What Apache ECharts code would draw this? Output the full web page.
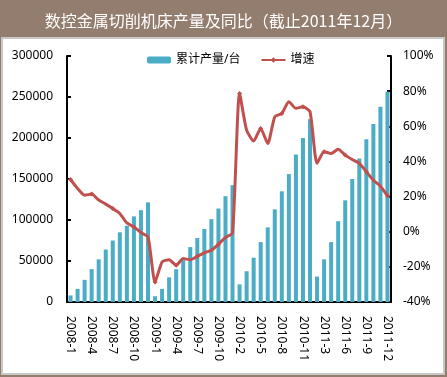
<!DOCTYPE html>
<html>
<head>
<meta charset="utf-8">
<script src="https://cdn.jsdelivr.net/npm/echarts@6/dist/echarts.min.js"></script>
<style>
  html, body { margin: 0; padding: 0; background: #937d6e; }
  #main { width: 447px; height: 377px; }
</style>
</head>
<body>
<div id="main"></div>
<script>
// 月份（2010、2011年1月与2月合并）
var months = [
  '2008-1','2008-2','2008-3','2008-4','2008-5','2008-6','2008-7','2008-8','2008-9','2008-10','2008-11','2008-12',
  '2009-1','2009-2','2009-3','2009-4','2009-5','2009-6','2009-7','2009-8','2009-9','2009-10','2009-11','2009-12',
  '2010-2','2010-3','2010-4','2010-5','2010-6','2010-7','2010-8','2010-9','2010-10','2010-11','2010-12',
  '2011-2','2011-3','2011-4','2011-5','2011-6','2011-7','2011-8','2011-9','2011-10','2011-11','2011-12'
];
// 累计产量/台
var output = [
  8000, 16000, 27000, 40000, 52000, 64000, 75000, 85000, 93000, 104500, 112000, 121500,
  7000, 16000, 30000, 40000, 51000, 67000, 78000, 89000, 101000, 114000, 129000, 142500,
  21500, 37500, 54000, 73000, 91000, 113000, 135000, 156000, 180000, 200000, 223000,
  31000, 52000, 73000, 98500, 124000, 150000, 175000, 198500, 217000, 238000, 256500
];
// 增速 %
var growth = [
  29.7, 24.6, 20.8, 21.4, 18, 15.7, 13.2, 10.4, 5, 2.7, -0.5, -3,
  -28.6, -17.2, -15.9, -19.1, -15.3, -15.9, -14, -12, -10.5, -7.1, -3.3, -0.7,
  78.7, 57.8, 51.6, 58.8, 50.2, 65.4, 67.3, 74, 70.2, 71.1, 68.3,
  38.9, 45.5, 44.5, 47, 43.6, 41.1, 38.9, 34.1, 29.3, 25.9, 20.4
];

var font = 'Noto Sans, Noto Sans CJK SC, sans-serif';
var chart = echarts.init(document.getElementById('main'));

chart.setOption({
  backgroundColor: '#937d6e',
  animation: false,
  textStyle: { fontFamily: font },
  title: {
    text: '数控金属切削机床产量及同比（截止2011年12月）',
    left: 'center',
    top: 8,
    textStyle: { color: '#ffffff', fontSize: 16, fontWeight: 'normal', fontFamily: 'Noto Sans CJK SC' }
  },
  graphic: [
    {
      type: 'rect',
      z: -10,
      shape: { x: 2, y: 38, width: 442, height: 336 },
      style: { fill: '#ffffff', stroke: '#c8c8c8', lineWidth: 2 }
    }
  ],
  legend: {
    left: 142,
    top: 49,
    itemWidth: 24,
    itemHeight: 7,
    itemGap: 20,
    textStyle: { fontSize: 12, color: '#000', fontFamily: font },
    data: ['累计产量/台', '增速']
  },
  grid: { left: 67, right: 56, top: 56, bottom: 75 },
  xAxis: {
    type: 'category',
    data: months,
    boundaryGap: true,
    axisLine: { lineStyle: { color: '#000', width: 2 } },
    axisTick: { inside: true, length: 3, interval: 0, lineStyle: { color: '#000' } },
    axisLabel: {
      interval: 2,
      rotate: -90,
      margin: 14,
      fontSize: 12,
      color: '#000'
    }
  },
  yAxis: [
    {
      type: 'value',
      min: 0,
      max: 300000,
      interval: 50000,
      splitLine: { show: false },
      axisLine: { show: true, lineStyle: { color: '#000', width: 2 } },
      axisTick: { show: true, inside: true, length: 4, lineStyle: { color: '#000', width: 2 } },
      axisLabel: { fontSize: 12, color: '#000', margin: 14, formatter: function (v) { return String(v); } }
    },
    {
      type: 'value',
      min: -40,
      max: 100,
      interval: 20,
      splitLine: { show: false },
      axisLine: { show: true, lineStyle: { color: '#000', width: 2 } },
      axisTick: { show: true, inside: true, length: 4, lineStyle: { color: '#000', width: 2 } },
      axisLabel: { fontSize: 12, color: '#000', margin: 12, formatter: '{value}%' }
    }
  ],
  series: [
    {
      name: '累计产量/台',
      type: 'bar',
      data: output,
      barWidth: 4,
      itemStyle: { color: '#4bacc6' }
    },
    {
      name: '增速',
      type: 'line',
      yAxisIndex: 1,
      data: growth,
      smooth: 0.2,
      symbol: 'diamond',
      symbolSize: 5,
      itemStyle: { color: '#c0504d' },
      lineStyle: { color: '#c0504d', width: 3 }
    }
  ]
});
</script>
</body>
</html>
